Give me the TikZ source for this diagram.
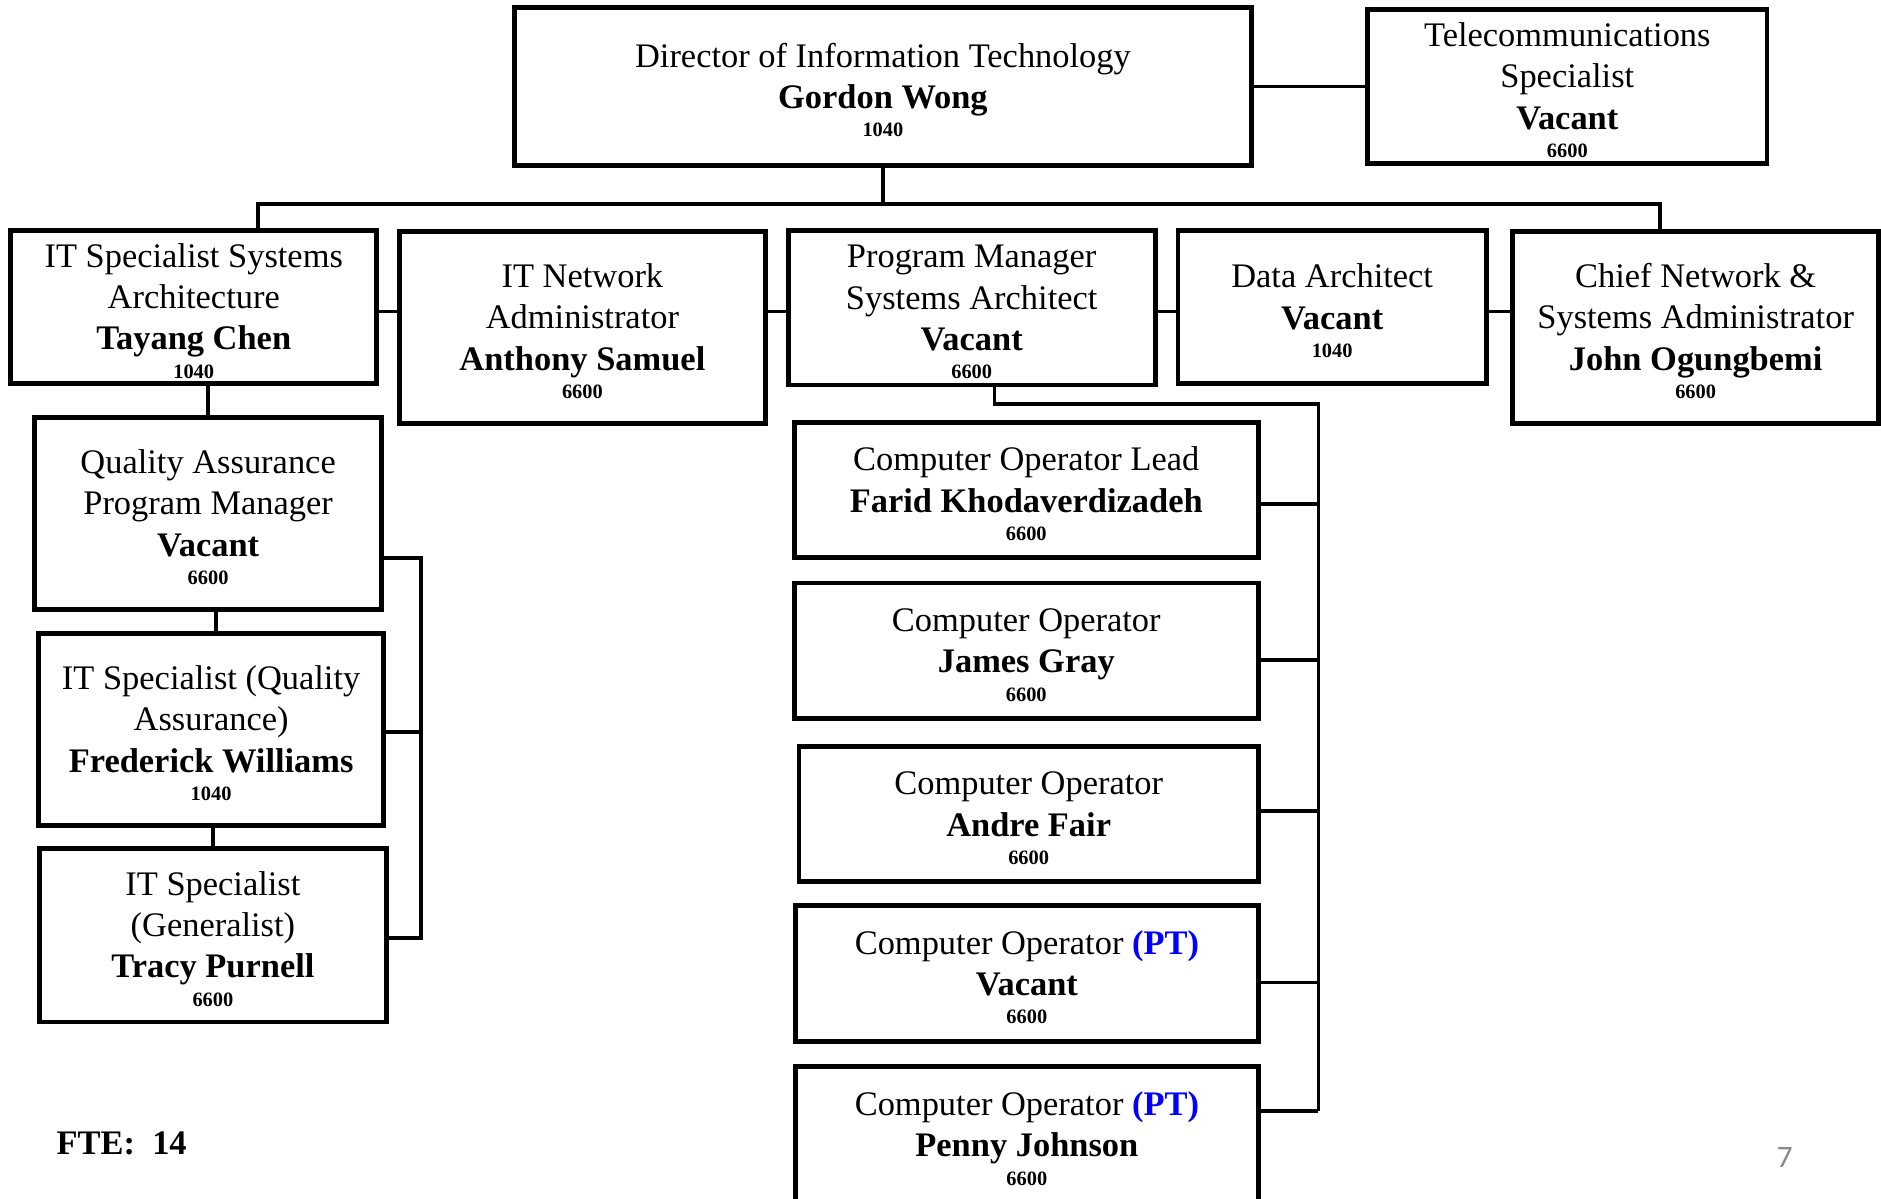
\documentclass[tikz,border=0pt]{standalone}
\usepackage{fontspec}
\setmainfont{Liberation Serif}
\newfontfamily\pagenumfont{Carlito}
\definecolor{ptblue}{RGB}{0,0,255}
\definecolor{pagegray}{RGB}{137,137,137}
\newcommand{\numln}[1]{{\fontsize{17}{20}\selectfont\bfseries #1}}
\newcommand{\ptmark}{\textcolor{ptblue}{\textbf{(PT)}}}
\newcommand{\topstrut}{\rule{0pt}{26pt}}
\begin{document}
\begin{tikzpicture}[x=1pt,y=-1pt,
  orgbox/.style={draw, line width=4pt, inner sep=0pt, align=center,
    font=\fontsize{28.7}{34.5}\selectfont},
  conn/.style={line width=3pt}]
\useasboundingbox (0,0) rectangle (1568,999);
\clip (0,0) rectangle (1568,999);

% top row
\node[orgbox, minimum width=614pt, minimum height=132pt] (dir) at (736,72)
  {\topstrut Director of Information Technology\\\textbf{Gordon Wong}\\[-11pt]\numln{1040}};
\node[orgbox, minimum width=333pt, minimum height=128pt] (tel) at (1306.5,72)
  {\topstrut Telecommunications\\Specialist\\\textbf{Vacant}\\[-11pt]\numln{6600}};

% second row
\node[orgbox, minimum width=305pt, minimum height=128pt] (tay) at (161.5,256)
  {\topstrut IT Specialist Systems\\Architecture\\\textbf{Tayang Chen}\\[-11pt]\numln{1040}};
\node[orgbox, minimum width=305pt, minimum height=160pt] (anth) at (485.5,273)
  {\topstrut IT Network\\Administrator\\\textbf{Anthony Samuel}\\[-11pt]\numln{6600}};
\node[orgbox, minimum width=306pt, minimum height=129pt] (pm) at (810,256.5)
  {\topstrut Program Manager\\Systems Architect\\\textbf{Vacant}\\[-11pt]\numln{6600}};
\node[orgbox, minimum width=257pt, minimum height=128pt] (data) at (1110.5,256)
  {\topstrut Data Architect\\\textbf{Vacant}\\[-11pt]\numln{1040}};
\node[orgbox, minimum width=305pt, minimum height=160pt] (chief) at (1413.5,273)
  {\topstrut Chief Network \&\\Systems Administrator\\\textbf{John Ogungbemi}\\[-11pt]\numln{6600}};

% left column
\node[orgbox, minimum width=289pt, minimum height=160pt] (qa) at (173.5,428)
  {\topstrut Quality Assurance\\Program Manager\\\textbf{Vacant}\\[-11pt]\numln{6600}};
\node[orgbox, minimum width=288pt, minimum height=160pt] (fred) at (176,608)
  {\topstrut IT Specialist (Quality\\Assurance)\\\textbf{Frederick Williams}\\[-11pt]\numln{1040}};
\node[orgbox, minimum width=289pt, minimum height=145pt] (tracy) at (177.5,779.5)
  {\topstrut IT Specialist\\(Generalist)\\\textbf{Tracy Purnell}\\[-11pt]\numln{6600}};

% operators column
\node[orgbox, minimum width=387pt, minimum height=113pt] (lead) at (855.5,408.5)
  {\topstrut Computer Operator Lead\\\textbf{Farid Khodaverdizadeh}\\[-11pt]\numln{6600}};
\node[orgbox, minimum width=387pt, minimum height=113pt] (james) at (855.5,542.5)
  {\topstrut Computer Operator\\\textbf{James Gray}\\[-11pt]\numln{6600}};
\node[orgbox, minimum width=383pt, minimum height=113pt] (andre) at (857.5,678.5)
  {\topstrut Computer Operator\\\textbf{Andre Fair}\\[-11pt]\numln{6600}};
\node[orgbox, minimum width=386pt, minimum height=113pt] (ptv) at (856,811.5)
  {\topstrut Computer Operator \ptmark\\\textbf{Vacant}\\[-11pt]\numln{6600}};
\node[orgbox, minimum width=386pt, minimum height=114pt] (penny) at (856,946)
  {\topstrut Computer Operator \ptmark\\\textbf{Penny Johnson}\\[-11pt]\numln{6600}};

% free texts
\node[anchor=base west, inner sep=0pt, font=\fontsize{28.7}{34.5}\selectfont\bfseries] (fte) at (47,962.5) {FTE:\ \ 14};
\node[anchor=base west, inner sep=0pt, font=\pagenumfont\fontsize{26}{30}\selectfont, text=pagegray] (pgnum) at (1481,973.5) {7};

% helper coordinates
\coordinate (bus) at (736,170);
\coordinate (busL) at (215,170);
\coordinate (busR) at (1384,170);
\coordinate (rowy) at (0,259.5);
\coordinate (qaR1) at (351,465);
\coordinate (qaR2) at (351,610);
\coordinate (qaR3) at (351,782);
\coordinate (pmA) at (829,337);
\coordinate (opTop) at (1099,337);
\coordinate (opBot) at (1099,926);
\coordinate (s1) at (0,420);
\coordinate (s2) at (0,550);
\coordinate (s3) at (0,676);
\coordinate (s4) at (0,819);
\coordinate (s5) at (0,926);

% connectors
\draw[conn] (dir.east) -- (tel.west);
\draw[conn] (dir.south) -- (bus);
\draw[conn] (busL |- tay.north) -- (busL) -- (busR) -- (busR |- chief.north);
\draw[conn] (tay.east |- rowy) -- (anth.west |- rowy);
\draw[conn] (anth.east |- rowy) -- (pm.west |- rowy);
\draw[conn] (pm.east |- rowy) -- (data.west |- rowy);
\draw[conn] (data.east |- rowy) -- (chief.west |- rowy);

\draw[conn] (qa.north) -- (qa.north |- tay.south);
\draw[conn] ([xshift=4pt]fred.north) -- ([xshift=4pt]fred.north |- qa.south);
\draw[conn] (tracy.north) -- (tracy.north |- fred.south);
\draw[conn] (qa.east |- qaR1) -- (qaR1) -- (qaR3) -- (tracy.east |- qaR3);
\draw[conn] (fred.east |- qaR2) -- (qaR2);

\draw[conn] (pmA |- pm.south) -- (pmA) -- (opTop) -- (opBot);
\draw[conn] (lead.east |- s1) -- (opTop |- s1);
\draw[conn] (james.east |- s2) -- (opTop |- s2);
\draw[conn] (andre.east |- s3) -- (opTop |- s3);
\draw[conn] (ptv.east |- s4) -- (opTop |- s4);
\draw[conn] (penny.east |- s5) -- (opTop |- s5);
\end{tikzpicture}
\end{document}
